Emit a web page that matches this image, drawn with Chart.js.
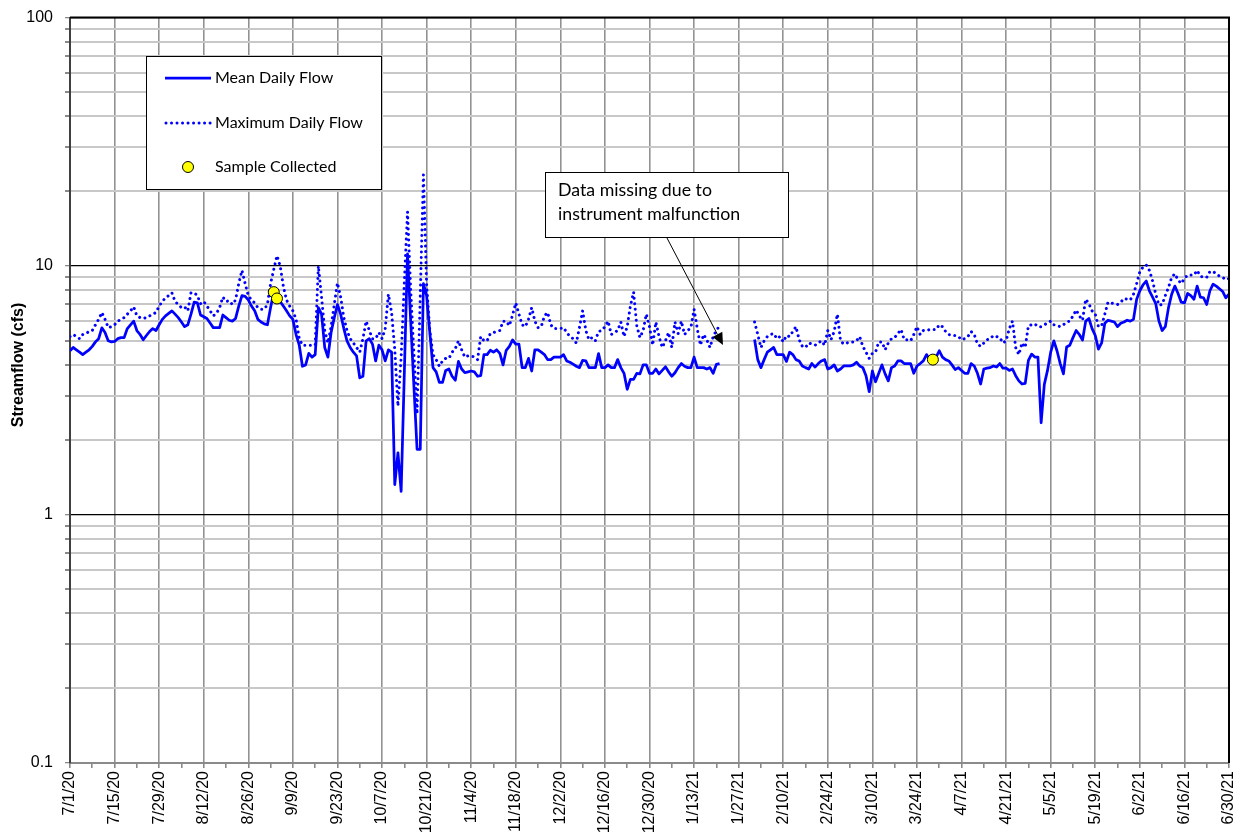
<!DOCTYPE html>
<html>
<head>
<meta charset="utf-8">
<script src="https://cdn.jsdelivr.net/npm/chart.js@4.4.0/dist/chart.umd.min.js"></script>
<style>
html,body{margin:0;padding:0;background:#fff;}
#wrap{width:1239px;height:837px;position:relative;}
</style>
</head>
<body>
<div id="wrap"><canvas id="c" width="1239" height="837"></canvas></div>
<script>
// ---- DATA (daily values, day 0 = 7/1/20 ... day 364 = 6/30/21) ----
const xTickLabels = ['7/1/20','7/15/20','7/29/20','8/12/20','8/26/20','9/9/20','9/23/20','10/7/20','10/21/20','11/4/20','11/18/20','12/2/20','12/16/20','12/30/20','1/13/21','1/27/21','2/10/21','2/24/21','3/10/21','3/24/21','4/7/21','4/21/21','5/5/21','5/19/21','6/2/21','6/16/21','6/30/21'];
const yTickValues = [0.1,0.2,0.3,0.4,0.5,0.6,0.7,0.8,0.9,1,2,3,4,5,6,7,8,9,10,20,30,40,50,60,70,80,90,100];
const yTickLabels = {0.1:'0.1',1:'1',10:'10',100:'100'};
const yAxisTitle = 'Streamflow (cfs)';

const meanFlow = [
4.56,4.7,4.6,4.5,4.4,4.5,4.6,4.75,4.95,5.1,
5.64,5.4,5.0,4.95,4.97,5.1,5.15,5.15,5.6,5.8,
6.0,5.5,5.3,5.05,5.25,5.45,5.6,5.5,5.8,6.1,
6.3,6.45,6.6,6.4,6.2,5.95,5.7,5.8,6.4,7.15,
7.1,6.35,6.25,6.15,5.9,5.65,5.65,5.65,6.35,6.2,
6.05,6.0,6.15,6.9,7.6,7.55,7.3,6.9,6.6,6.1,
5.95,5.85,5.8,6.8,7.85,7.45,7.2,6.9,6.6,6.3,
6.1,5.3,4.8,3.95,4.0,4.45,4.3,4.4,6.8,6.4,
4.7,4.3,5.4,6.2,7.0,6.4,5.6,5.0,4.7,4.5,
4.35,3.55,3.6,5.0,5.1,4.85,4.15,4.8,4.6,4.15,
4.6,4.5,1.32,1.77,1.24,3.7,11.2,6.0,3.3,1.83,
1.83,8.5,7.6,5.4,3.9,3.75,3.4,3.4,3.8,3.85,
3.6,3.47,4.13,3.85,3.72,3.75,3.78,3.75,3.6,3.62,
4.4,4.4,4.58,4.5,4.6,4.45,4.0,4.58,4.75,5.04,
4.85,4.85,3.9,3.9,4.25,3.78,4.6,4.6,4.5,4.4,
4.2,4.2,4.3,4.3,4.3,4.4,4.15,4.1,4.03,3.95,
3.9,4.17,4.15,3.9,3.9,3.9,4.44,3.9,3.9,4.0,
3.9,3.9,4.2,3.9,3.7,3.19,3.5,3.5,3.7,3.68,
4.0,4.0,3.7,3.7,3.85,3.68,3.8,3.93,3.75,3.6,
3.72,3.9,4.05,3.95,3.9,3.9,4.3,3.9,3.9,3.9,
3.85,3.9,3.7,4.02,4.05,null,null,null,null,null,
null,null,null,null,null,5.06,4.2,3.9,4.2,4.5,
4.6,4.7,4.4,4.4,4.4,4.13,4.5,4.4,4.2,4.15,
3.96,3.9,3.85,4.05,3.92,4.05,4.15,4.2,3.85,3.9,
4.0,3.78,3.85,3.96,3.96,3.96,4.0,4.1,3.96,3.9,
3.62,3.12,3.78,3.42,3.7,4.0,3.68,3.45,3.9,3.96,
4.15,4.15,4.05,4.05,4.05,3.7,3.96,4.05,4.15,4.4,
4.2,4.2,4.3,4.56,4.3,4.2,4.15,4.0,3.83,3.9,
3.8,3.7,3.7,4.05,3.96,3.7,3.35,3.85,3.88,3.9,
3.96,3.92,4.05,3.88,3.88,3.8,3.85,3.62,3.45,3.35,
3.37,4.17,4.42,4.3,4.3,2.34,3.34,3.8,4.5,5.0,
4.55,4.05,3.68,4.72,4.8,5.15,5.5,5.3,5.04,6.0,
6.15,5.6,5.25,4.63,4.9,5.88,6.05,6.0,5.95,5.7,
5.88,5.95,6.05,6.0,6.1,7.35,7.95,8.4,8.7,7.95,
7.5,7.05,6.0,5.5,5.7,6.8,7.7,8.3,7.75,7.15,
7.1,7.75,7.6,7.35,8.3,7.5,7.45,7.0,7.95,8.45,
8.3,8.1,7.9,7.45,7.7
];

const maxFlow = [
5.2,5.3,5.2,5.1,5.3,5.35,5.45,5.5,5.8,6.1,
6.5,6.1,5.65,5.7,5.8,6.0,6.1,6.2,6.4,6.6,
6.85,6.3,6.2,6.15,6.2,6.3,6.4,6.5,6.9,7.2,
7.45,7.6,7.8,7.2,7.0,6.8,6.85,6.6,7.8,7.8,
7.6,7.05,7.2,6.9,6.6,6.3,6.45,6.8,7.5,7.2,
7.25,7.0,7.3,8.5,9.6,8.5,7.6,7.3,7.1,6.8,
6.7,6.7,7.0,8.5,9.7,11.0,10.0,8.3,7.3,6.9,
6.6,6.1,5.1,4.8,4.8,4.8,4.8,4.8,10.0,7.5,
5.5,4.9,5.7,7.0,8.55,7.5,6.2,5.5,5.1,4.9,
4.7,4.5,5.1,6.0,5.5,5.1,5.1,5.4,5.1,5.6,
7.7,6.5,4.6,2.73,4.3,8.5,16.5,8.0,4.5,2.54,
7.5,23.3,8.4,5.5,4.4,4.2,3.95,4.15,4.25,4.25,
4.5,4.65,5.0,4.6,4.3,4.35,4.35,4.3,4.2,5.2,
5.0,5.0,5.35,5.4,5.45,5.5,6.0,6.0,5.75,6.35,
7.1,6.4,5.8,5.7,6.1,6.8,6.0,5.65,5.7,6.3,
6.5,5.8,5.6,5.6,5.6,5.65,5.4,5.2,5.1,4.9,
5.65,6.6,5.5,5.05,5.15,5.0,5.45,5.5,5.7,6.0,
5.3,5.4,5.5,5.95,5.2,5.7,6.9,7.85,5.75,5.15,
5.5,6.4,5.7,4.8,5.95,5.2,4.7,5.0,5.4,4.7,
5.95,5.35,6.0,5.3,5.5,5.65,6.7,5.6,4.8,5.3,
5.05,4.7,5.2,5.5,5.75,null,null,null,null,null,
null,null,null,null,null,5.95,5.3,4.7,5.0,5.2,
5.3,5.35,5.1,5.2,4.95,5.25,5.2,5.45,5.7,5.05,
4.75,4.7,4.9,4.85,4.8,4.9,5.0,4.8,5.5,5.05,
5.45,6.4,5.0,4.85,4.9,4.95,4.95,5.0,5.2,4.75,
4.5,4.25,4.45,4.5,4.95,4.95,4.6,4.9,5.1,5.15,
5.35,5.55,5.05,5.05,5.0,5.3,5.7,5.3,5.5,5.5,
5.55,5.55,5.55,5.8,5.7,5.45,5.3,5.25,5.25,5.2,
5.05,5.1,5.2,5.45,5.3,4.85,4.75,4.9,5.05,5.1,
5.25,5.2,5.15,4.9,5.0,5.6,6.0,4.7,4.4,4.9,
4.7,5.75,5.8,5.85,5.7,5.7,5.8,5.9,6.0,5.8,
5.75,5.7,5.8,5.95,6.0,6.3,6.65,6.3,6.05,7.35,
7.05,6.6,6.4,5.7,5.75,6.4,7.15,7.1,7.05,7.0,
7.15,7.4,7.35,7.3,7.7,8.5,9.5,9.9,10.1,9.6,
8.7,7.7,6.95,7.0,7.6,8.2,9.0,9.3,8.8,8.5,
8.9,9.2,9.2,9.2,9.6,9.1,9.0,9.0,9.5,9.5,
9.3,9.1,9.0,8.8,8.9
];

const sampleDays = [64, 65, 271];
const sampleFlow = [7.85, 7.4, 4.2];

const legendLabels = ['Mean Daily Flow','Maximum Daily Flow','Sample Collected'];
const noteLines = ['Data missing due to','instrument malfunction'];

// ---- STYLE ----
const BLUE = '#0000ff';
const AX_FONT = "'Liberation Sans', Arial, sans-serif";
const TXT_FONT = "Lato, 'Open Sans', sans-serif";
const DOT_DASH = [0.01, 5.5];

function fitFont(ctx, text, width, family) {
  ctx.font = '100px ' + family;
  const w = ctx.measureText(text).width;
  return 100 * width / w;
}

const overlayPlugin = {
  id: 'overlay',
  afterDraw(chart) {
    const ctx = chart.ctx;
    const a = chart.chartArea;
    ctx.save();
    // frame: top and right borders
    ctx.strokeStyle = '#000';
    ctx.lineWidth = 2;
    ctx.beginPath();
    ctx.moveTo(a.left, a.top); ctx.lineTo(a.right, a.top); ctx.lineTo(a.right, a.bottom);
    ctx.stroke();

    // y-axis title
    ctx.save();
    ctx.translate(18.5, 365);
    ctx.rotate(-Math.PI / 2);
    ctx.font = 'bold 16px ' + AX_FONT;
    ctx.fillStyle = '#000'; ctx.textAlign = 'center'; ctx.textBaseline = 'middle';
    ctx.fillText(yAxisTitle, 0, 0);
    ctx.restore();

    // legend box
    ctx.fillStyle = '#fff';
    ctx.fillRect(146, 56, 235, 133);
    ctx.strokeStyle = '#000'; ctx.lineWidth = 1;
    ctx.strokeRect(146.5, 56.5, 235, 133);
    ctx.strokeStyle = BLUE; ctx.lineWidth = 2.75;
    ctx.beginPath(); ctx.moveTo(165, 78); ctx.lineTo(211, 78); ctx.stroke();
    ctx.lineWidth = 3;
    ctx.setLineDash(DOT_DASH); ctx.lineCap = 'round';
    ctx.beginPath(); ctx.moveTo(166, 123); ctx.lineTo(211, 123); ctx.stroke();
    ctx.setLineDash([]); ctx.lineCap = 'butt';
    ctx.beginPath(); ctx.arc(188, 167, 5.5, 0, Math.PI * 2);
    ctx.fillStyle = '#ffff00'; ctx.fill();
    ctx.strokeStyle = '#000'; ctx.lineWidth = 1; ctx.stroke();
    const ls = fitFont(ctx, legendLabels[1], 148, TXT_FONT);
    ctx.font = ls.toFixed(2) + 'px ' + TXT_FONT;
    ctx.fillStyle = '#000'; ctx.textAlign = 'left'; ctx.textBaseline = 'alphabetic';
    ctx.fillText(legendLabels[0], 215, 83);
    ctx.fillText(legendLabels[1], 215, 128);
    ctx.fillText(legendLabels[2], 215, 172);

    // annotation box
    ctx.fillStyle = '#fff';
    ctx.fillRect(545, 172, 243, 65);
    ctx.strokeStyle = '#000'; ctx.lineWidth = 1;
    ctx.strokeRect(545.5, 172.5, 243, 65);
    const ns = fitFont(ctx, noteLines[0], 154, TXT_FONT);
    ctx.font = ns.toFixed(2) + 'px ' + TXT_FONT;
    ctx.fillStyle = '#000';
    ctx.fillText(noteLines[0], 558, 196);
    ctx.fillText(noteLines[1], 558, 220);

    // arrow
    const x0 = 667, y0 = 238, x1 = 723, y1 = 345;
    const ang = Math.atan2(y1 - y0, x1 - x0);
    const L = 12, W = 5.5;
    const bx = x1 - L * Math.cos(ang), by = y1 - L * Math.sin(ang);
    ctx.strokeStyle = '#000'; ctx.lineWidth = 1;
    ctx.beginPath(); ctx.moveTo(x0, y0); ctx.lineTo(bx, by); ctx.stroke();
    ctx.beginPath();
    ctx.moveTo(x1, y1);
    ctx.lineTo(bx + W * Math.sin(ang), by - W * Math.cos(ang));
    ctx.lineTo(bx - W * Math.sin(ang), by + W * Math.cos(ang));
    ctx.closePath(); ctx.fillStyle = '#000'; ctx.fill();
    ctx.restore();
  }
};

const isMajor = v => Math.abs(Math.log10(v) - Math.round(Math.log10(v))) < 1e-9;

new Chart(document.getElementById('c'), {
  type: 'line',
  data: {
    datasets: [
      {
        label: legendLabels[2], type: 'scatter',
        data: sampleDays.map((d, i) => ({x: d, y: sampleFlow[i]})),
        pointRadius: 5.5, pointBackgroundColor: '#ffff00', pointBorderColor: '#000', pointBorderWidth: 1,
        showLine: false
      },
      {
        label: legendLabels[0],
        data: meanFlow.map((v, i) => ({x: i, y: v})),
        borderColor: BLUE, borderWidth: 2.75, pointRadius: 0, tension: 0, spanGaps: false,
        borderJoinStyle: 'round'
      },
      {
        label: legendLabels[1],
        data: maxFlow.map((v, i) => ({x: i, y: v})),
        borderColor: BLUE, borderWidth: 3, borderDash: DOT_DASH, borderCapStyle: 'round',
        pointRadius: 0, tension: 0, spanGaps: false
      }
    ]
  },
  options: {
    responsive: false, animation: false, devicePixelRatio: 1,
    layout: {padding: {top: 17.5, right: 10, left: 0, bottom: 0}},
    plugins: {legend: {display: false}, tooltip: {enabled: false}},
    scales: {
      x: {
        type: 'linear', min: 0, max: 364,
        afterFit: s => { s.height = 74; s.paddingLeft = 0; s.paddingRight = 0; },
        ticks: {
          stepSize: 7, autoSkip: false, maxRotation: 90, minRotation: 90,
          font: {family: AX_FONT, size: 16}, color: '#000', padding: 3,
          callback: v => (v % 14 === 0 ? xTickLabels[v / 14] : '')
        },
        grid: {
          color: c => (c.tick && c.tick.value % 14 === 0 ? '#929292' : 'rgba(0,0,0,0)'),
          tickColor: '#8a8a8a', lineWidth: 1.6, tickLength: 5
        },
        border: {color: '#8a8a8a', width: 2}
      },
      y: {
        type: 'logarithmic', min: 0.1, max: 100,
        afterFit: s => { s.width = 70; s.paddingTop = 0; s.paddingBottom = 0; },
        afterBuildTicks: s => { s.ticks = yTickValues.map(v => ({value: v, major: isMajor(v)})); },
        ticks: {
          autoSkip: false, font: {family: AX_FONT, size: 16}, color: '#000', padding: 12,
          callback: v => (yTickLabels[v] !== undefined ? yTickLabels[v] : '')
        },
        grid: {
          color: c => {
            const v = c.tick ? c.tick.value : 1;
            if (v === 0.1) return 'rgba(0,0,0,0)';
            return isMajor(v) ? '#000' : '#c8c8c8';
          },
          lineWidth: c => (c.tick && isMajor(c.tick.value) ? 1.3 : 2),
          tickColor: '#8a8a8a', tickLength: 5
        },
        border: {color: '#404040', width: 2}
      }
    }
  },
  plugins: [overlayPlugin]
});
</script>
</body>
</html>
